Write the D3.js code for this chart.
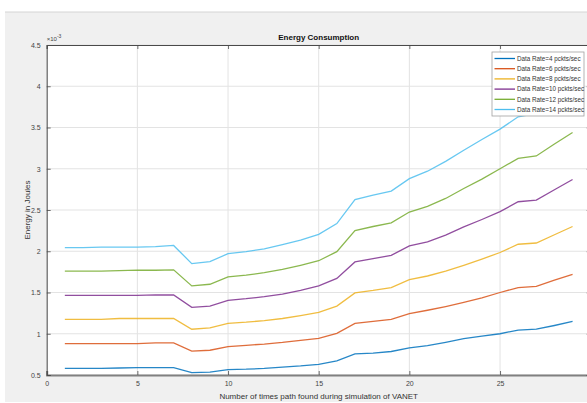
<!DOCTYPE html>
<html>
<head>
<meta charset="utf-8">
<script src="https://cdn.jsdelivr.net/npm/d3@7"></script>
<style>
html,body{margin:0;padding:0;background:#fff;}
svg{display:block;font-family:"Liberation Sans",Arial,sans-serif;}
</style>
</head>
<body>
<svg id="chart" width="587" height="403"></svg>
<script>
const xValues = d3.range(1, 30);
const seriesNames = ["Data Rate=4 pckts/sec","Data Rate=6 pckts/sec","Data Rate=8 pckts/sec","Data Rate=10 pckts/sec","Data Rate=12 pckts/sec","Data Rate=14 pckts/sec"];
const rate4  = [0.58,0.58,0.58,0.585,0.59,0.59,0.59,0.53,0.535,0.565,0.57,0.58,0.595,0.61,0.63,0.67,0.755,0.765,0.785,0.83,0.855,0.895,0.94,0.97,1.0,1.045,1.055,1.10,1.15];
const rate6  = [0.88,0.88,0.88,0.88,0.88,0.89,0.89,0.79,0.80,0.845,0.86,0.875,0.895,0.92,0.945,1.005,1.125,1.15,1.175,1.245,1.285,1.33,1.38,1.435,1.5,1.56,1.575,1.65,1.72];
const rate8  = [1.175,1.175,1.175,1.185,1.185,1.185,1.185,1.055,1.07,1.125,1.14,1.16,1.185,1.22,1.26,1.335,1.495,1.525,1.56,1.655,1.70,1.76,1.83,1.905,1.985,2.085,2.10,2.20,2.30];
const rate10 = [1.465,1.465,1.465,1.465,1.465,1.47,1.47,1.32,1.335,1.405,1.425,1.45,1.48,1.525,1.58,1.67,1.87,1.91,1.95,2.065,2.115,2.195,2.295,2.385,2.48,2.6,2.62,2.745,2.87];
const rate12 = [1.76,1.76,1.76,1.765,1.77,1.77,1.775,1.58,1.60,1.69,1.71,1.74,1.78,1.83,1.885,1.995,2.25,2.30,2.345,2.475,2.545,2.64,2.76,2.875,3.0,3.125,3.155,3.30,3.44];
const rate14 = [2.045,2.045,2.05,2.05,2.05,2.055,2.07,1.85,1.875,1.97,1.995,2.03,2.08,2.135,2.205,2.335,2.625,2.68,2.73,2.88,2.97,3.09,3.225,3.355,3.48,3.63,3.67,3.84,4.0];
const xTicks = [0,5,10,15,20,25];
const yTicks = [0.5,1,1.5,2,2.5,3,3.5,4,4.5];
const yTickLabels = ["0.5","1","1.5","2","2.5","3","3.5","4","4.5"];
const colors = ["#0072BD","#D95319","#EDB120","#7E2F8E","#77AC30","#4DBEEE"];
const allSeries = [rate4, rate6, rate8, rate10, rate12, rate14];

const svg = d3.select("#chart");
const L = 46.7, R = 590.7, T = 45, B = 375;

// figure background
svg.append("rect").attr("x",5).attr("y",12).attr("width",582).attr("height",390).attr("fill","#f0f0f0");
svg.append("line").attr("x1",5).attr("x2",587).attr("y1",12).attr("y2",12).attr("stroke","#d4d4d4").attr("stroke-width",1);

const x = d3.scaleLinear().domain([0,30]).range([L,R]);
const y = d3.scaleLinear().domain([0.5,4.5]).range([B,T]);

svg.append("rect").attr("x",L).attr("y",T).attr("width",R-L).attr("height",B-T).attr("fill","#fff");

// grid
const g = svg.append("g");
g.selectAll(".gx").data(xTicks).enter().append("line")
  .attr("x1",d=>x(d)).attr("x2",d=>x(d)).attr("y1",T).attr("y2",B)
  .attr("stroke","#e3e3e3").attr("stroke-width",1);
g.selectAll(".gy").data(yTicks).enter().append("line")
  .attr("x1",L).attr("x2",R).attr("y1",d=>y(d)).attr("y2",d=>y(d))
  .attr("stroke","#e3e3e3").attr("stroke-width",1);

// lines
const line = d3.line().x((d,i)=>x(xValues[i])).y(d=>y(d));
svg.append("clipPath").attr("id","clip").append("rect").attr("x",L).attr("y",T).attr("width",R-L).attr("height",B-T);
const lg = svg.append("g").attr("clip-path","url(#clip)");
allSeries.forEach((s,i)=>{
  lg.append("path").datum(s).attr("d",line).attr("fill","none")
    .attr("stroke",colors[i]).attr("stroke-width",1.3).attr("stroke-opacity",0.85);
});

// axes
const axisColor = "#4a4a4a";
const xAxisB = d3.axisBottom(x).tickValues(xTicks).tickSize(-4).tickPadding(6).tickFormat(d3.format("d"));
const xAxisT = d3.axisTop(x).tickValues(xTicks).tickSize(-4).tickFormat("");
const yAxisL = d3.axisLeft(y).tickValues(yTicks).tickSize(-4).tickPadding(6).tickFormat((d,i)=>yTickLabels[i]);
const yAxisR = d3.axisRight(y).tickValues(yTicks).tickSize(-4).tickFormat("");

function style(sel){
  sel.select(".domain").attr("stroke",axisColor).attr("stroke-width",1);
  sel.selectAll(".tick line").attr("stroke",axisColor).attr("stroke-width",0.8);
  sel.selectAll(".tick text").attr("fill","#444").attr("font-size","7px");
}
svg.append("g").attr("transform",`translate(0,${B})`).call(xAxisB).call(style)
  .call(s=>s.select(".domain").attr("stroke","#808080").attr("stroke-width",2));
svg.append("g").attr("transform",`translate(0,${T})`).call(xAxisT).call(style);
svg.append("g").attr("transform",`translate(${L},0)`).call(yAxisL).call(style);
svg.append("g").attr("transform",`translate(${R},0)`).call(yAxisR).call(style);

// exponent
const ex = svg.append("text").attr("x",L).attr("y",41).attr("font-size","6px").attr("fill","#444");
ex.append("tspan").text("×10");
ex.append("tspan").attr("dy",-3).attr("font-size","5px").text("-3");

// title & labels
svg.append("text").attr("x",(L+R)/2).attr("y",40).attr("text-anchor","middle")
  .attr("font-size","8px").attr("font-weight","bold").attr("fill","#111").text("Energy Consumption");
svg.append("text").attr("x",(L+R)/2).attr("y",399).attr("text-anchor","middle")
  .attr("font-size","8px").attr("fill","#333").text("Number of times path found during simulation of VANET");
svg.append("text").attr("transform",`translate(30,${(T+B)/2}) rotate(-90)`).attr("text-anchor","middle")
  .attr("font-size","8px").attr("fill","#333").text("Energy in Joules");

// legend
const lgX = 492, lgY = 52, lgW = 92, lgH = 64;
const leg = svg.append("g");
leg.append("rect").attr("x",lgX).attr("y",lgY).attr("width",lgW).attr("height",lgH)
  .attr("fill","#fff").attr("stroke","#a0a0a0").attr("stroke-width",0.8);
seriesNames.forEach((n,i)=>{
  const yy = lgY + 6.5 + i*10.2;
  leg.append("line").attr("x1",lgX+2.5).attr("x2",lgX+23).attr("y1",yy).attr("y2",yy)
    .attr("stroke",colors[i]).attr("stroke-width",1.3);
  leg.append("text").attr("x",lgX+25).attr("y",yy+2.2).attr("font-size","6.3px").attr("fill","#333").text(n);
});
</script>
</body>
</html>
